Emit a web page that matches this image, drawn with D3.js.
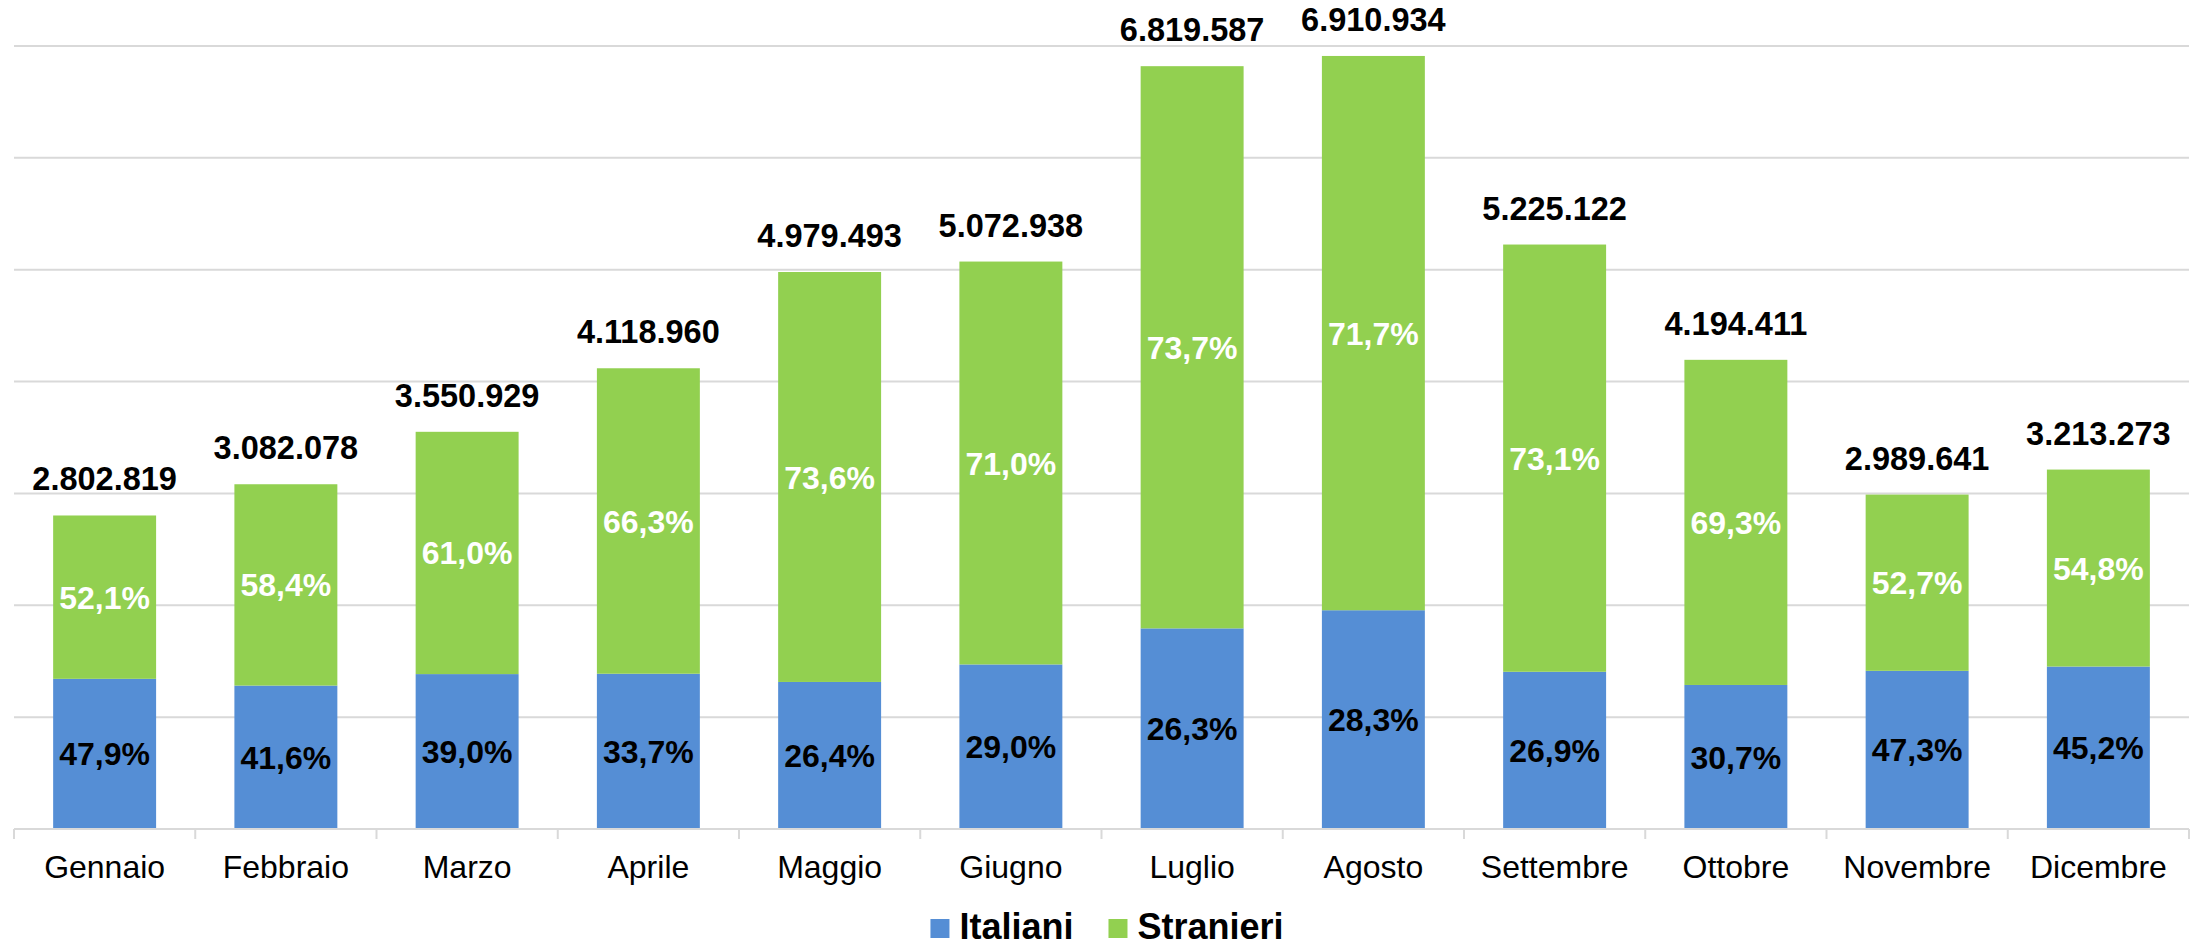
<!DOCTYPE html>
<html>
<head>
<meta charset="utf-8">
<script src="https://cdn.jsdelivr.net/npm/d3@7/dist/d3.min.js"></script>
<style>
  html, body { margin: 0; padding: 0; background: #fff; }
  svg { display: block; font-family: "Liberation Sans", Arial, sans-serif; }
</style>
</head>
<body>
<svg id="chart" width="2203" height="947"></svg>
<script>
const months = ["Gennaio","Febbraio","Marzo","Aprile","Maggio","Giugno","Luglio","Agosto","Settembre","Ottobre","Novembre","Dicembre"];
const totals = [2802819, 3082078, 3550929, 4118960, 4979493, 5072938, 6819587, 6910934, 5225122, 4194411, 2989641, 3213273];
const pctItaliani = [47.9, 41.6, 39.0, 33.7, 26.4, 29.0, 26.3, 28.3, 26.9, 30.7, 47.3, 45.2];
const pctStranieri = [52.1, 58.4, 61.0, 66.3, 73.6, 71.0, 73.7, 71.7, 73.1, 69.3, 52.7, 54.8];
const seriesNames = ["Italiani", "Stranieri"];
const yTicks = [0, 1000000, 2000000, 3000000, 4000000, 5000000, 6000000, 7000000];

(function () {
const colors = { Italiani: "#558ED5", Stranieri: "#92D050" };

const locale = d3.formatLocale({ decimal: ",", thousands: ".", grouping: [3], currency: ["€", ""] });
const fmtInt = locale.format(",d");
const fmtPct = v => locale.format(".1f")(v) + "%";

const rows = months.map((m, i) => {
  const ita = totals[i] * pctItaliani[i] / 100;
  return { month: m, total: totals[i], Italiani: ita, Stranieri: totals[i] - ita,
           pItaliani: pctItaliani[i], pStranieri: pctStranieri[i] };
});

const svg = d3.select("#chart");
const mLeft = 14, mRight = 2189, mTop = 46, mBottom = 829;

const x = d3.scaleBand().domain(months).range([mLeft, mRight]).paddingInner(0.432).paddingOuter(0.216);
const y = d3.scaleLinear().domain([0, 7000000]).range([mBottom, mTop]);

// gridlines
svg.append("g").selectAll("line").data(yTicks.slice(1)).join("line")
  .attr("x1", mLeft).attr("x2", mRight)
  .attr("y1", d => y(d)).attr("y2", d => y(d))
  .attr("stroke", "#d9d9d9").attr("stroke-width", 2);

// stacked bars
const stack = d3.stack().keys(seriesNames)(rows);
const layers = svg.append("g").selectAll("g").data(stack).join("g")
  .attr("fill", d => colors[d.key]);
layers.selectAll("rect").data(d => d).join("rect")
  .attr("x", d => x(d.data.month))
  .attr("width", x.bandwidth())
  .attr("y", d => y(d[1]))
  .attr("height", d => y(d[0]) - y(d[1]));

// axis line + ticks at category boundaries
const step = x.step();
const axisG = svg.append("g");
axisG.append("line").attr("x1", mLeft).attr("x2", mRight).attr("y1", mBottom).attr("y2", mBottom)
  .attr("stroke", "#d9d9d9").attr("stroke-width", 2);
axisG.selectAll("line.tick").data(d3.range(months.length + 1)).join("line")
  .attr("class", "tick")
  .attr("x1", i => mLeft + i * step).attr("x2", i => mLeft + i * step)
  .attr("y1", mBottom).attr("y2", mBottom + 10)
  .attr("stroke", "#d9d9d9").attr("stroke-width", 2);

// month labels
svg.append("g").selectAll("text").data(months).join("text")
  .attr("x", d => x(d) + x.bandwidth() / 2)
  .attr("y", 878)
  .attr("text-anchor", "middle")
  .attr("font-size", 32)
  .attr("fill", "#000")
  .text(d => d);

// percentage labels
stack.forEach(layer => {
  svg.append("g").selectAll("text").data(layer).join("text")
    .attr("x", d => x(d.data.month) + x.bandwidth() / 2)
    .attr("y", d => (y(d[0]) + y(d[1])) / 2)
    .attr("dy", "0.36em")
    .attr("text-anchor", "middle")
    .attr("font-size", 32)
    .attr("font-weight", "bold")
    .attr("fill", layer.key === "Italiani" ? "#000" : "#fff")
    .text(d => fmtPct(layer.key === "Italiani" ? d.data.pItaliani : d.data.pStranieri));
});

// totals
svg.append("g").selectAll("text").data(rows).join("text")
  .attr("x", d => x(d.month) + x.bandwidth() / 2)
  .attr("y", d => y(d.total) - 25)
  .attr("text-anchor", "middle")
  .attr("font-size", 32.5)
  .attr("font-weight", "bold")
  .attr("fill", "#000")
  .text(d => fmtInt(d.total));

// legend
const legend = svg.append("g");
let cx = 0;
seriesNames.forEach(name => {
  const g = legend.append("g");
  g.append("rect").attr("x", 0).attr("y", -20).attr("width", 19).attr("height", 19).attr("fill", colors[name]);
  const t = g.append("text").attr("x", 29).attr("y", 0)
    .attr("font-size", 36).attr("font-weight", "bold").attr("fill", "#000").text(name);
  const w = 29 + t.node().getComputedTextLength();
  g.attr("transform", `translate(${cx},0)`);
  cx += w + 35;
});
const totalW = cx - 35;
legend.attr("transform", `translate(${1107 - totalW / 2},939)`);
})();
</script>
</body>
</html>
